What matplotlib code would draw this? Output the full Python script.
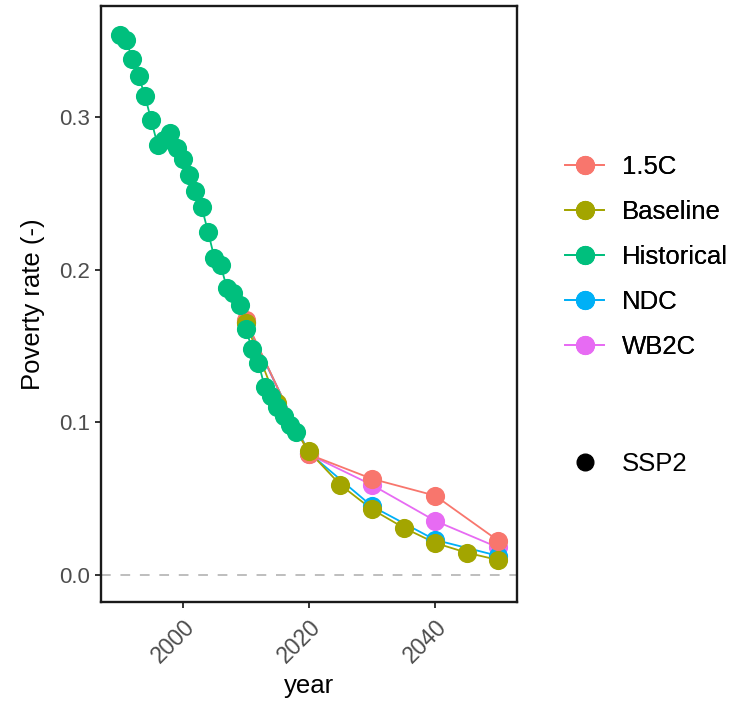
import numpy as np
import matplotlib
matplotlib.use("Agg")
import matplotlib.pyplot as plt
from matplotlib.lines import Line2D

plt.rcParams['font.family'] = ['Liberation Sans', 'DejaVu Sans']

# historical poverty rate
hist_years = list(range(1990, 2019))
hist_vals = [0.354, 0.351, 0.338, 0.327, 0.314, 0.298, 0.282, 0.285, 0.290, 0.280,
             0.273, 0.262, 0.252, 0.241, 0.225, 0.208, 0.203, 0.188, 0.185, 0.177,
             0.161, 0.148, 0.139, 0.123, 0.117, 0.110, 0.104, 0.098, 0.094]

# scenarios
base_years = [2010, 2015, 2020, 2025, 2030, 2035, 2040, 2045, 2050]
base_vals = [0.165, 0.113, 0.081, 0.059, 0.043, 0.031, 0.021, 0.0146, 0.0098]

dec_years = [2010, 2020, 2030, 2040, 2050]
c15_vals = [0.167, 0.079, 0.063, 0.052, 0.0225]
wb2c_vals = [0.166, 0.079, 0.059, 0.0355, 0.018]
ndc_vals = [0.166, 0.080, 0.045, 0.023, 0.0125]

labels = ['1.5C', 'Baseline', 'Historical', 'NDC', 'WB2C']
colors = ['#F8766D', '#A3A500', '#00BF7D', '#00B0F6', '#E76BF3']

series = {
    '1.5C': (dec_years, c15_vals),
    'Baseline': (base_years, base_vals),
    'Historical': (hist_years, hist_vals),
    'NDC': (dec_years, ndc_vals),
    'WB2C': (dec_years, wb2c_vals),
}
# drawing order, bottom first
order = ['WB2C', 'NDC', '1.5C', 'Baseline', 'Historical']

fig = plt.figure(figsize=(7.36, 7.10), dpi=100)
ax = fig.add_axes([0.137, 0.152, 0.5655, 0.8395])

ax.axhline(0, color='#BEBEBE', lw=1.4, ls=(0, (5, 5)), zorder=1)

for i, name in enumerate(order):
    x, y = series[name]
    c = colors[labels.index(name)]
    ax.plot(x, y, color=c, lw=1.3, zorder=2)
for i, name in enumerate(order):
    x, y = series[name]
    c = colors[labels.index(name)]
    ax.plot(x, y, ls='none', marker='o', ms=13.8, color=c, mec='none', zorder=3 + i)

ax.set_xlim(1987, 2053)
ax.set_ylim(-0.0178, 0.373)
ax.set_xticks([2000, 2020, 2040])
ax.set_yticks([0.0, 0.1, 0.2, 0.3])
ax.set_yticklabels(['0.0', '0.1', '0.2', '0.3'])

for s in ax.spines.values():
    s.set_linewidth(1.7)
    s.set_color('#1a1a1a')
ax.tick_params(length=4.5, width=1.4, color='#333333', labelcolor='#4D4D4D',
               labelsize=16, pad=3.5)
ax.tick_params(axis='x', labelsize=16.5, pad=5)
for lab in ax.get_xticklabels():
    lab.set_rotation(45)
    lab.set_ha('right')
    lab.set_va('top')
    lab.set_rotation_mode('anchor')

ax.set_xlabel('year', fontsize=18.5, labelpad=5)
ax.set_ylabel('Poverty rate (-)', fontsize=18.5, labelpad=10)

handles = [Line2D([], [], color=c, lw=1.3, marker='o', ms=13.8, mec='none') for c in colors]
leg1 = fig.legend(handles, labels, loc='upper left', bbox_to_anchor=(0.768, 0.782),
                  frameon=False, fontsize=18.5, handlelength=1.5, handletextpad=0.7,
                  labelspacing=0.82, borderpad=0, borderaxespad=0)
fig.add_artist(leg1)
h2 = [Line2D([], [], color='black', ls='none', marker='o', ms=12)]
fig.legend(h2, ['SSP2'], loc='upper left', bbox_to_anchor=(0.768, 0.363),
           frameon=False, fontsize=18.5, handlelength=1.5, handletextpad=0.7,
           borderpad=0, borderaxespad=0)

fig.savefig('out.png', dpi=100)
